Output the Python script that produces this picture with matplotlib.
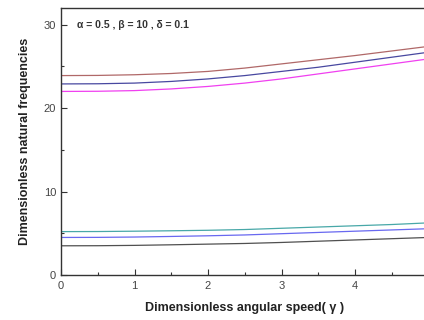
import matplotlib
matplotlib.use("Agg")
import matplotlib.pyplot as plt
from matplotlib.ticker import MultipleLocator

# angular speed values where the curves were read
gamma = [0, 0.5, 1, 1.5, 2, 2.5, 3, 3.5, 4, 4.5, 5]

# upper group of frequencies
f_brown = [23.9, 23.92, 24.0, 24.15, 24.4, 24.8, 25.3, 25.8, 26.3, 26.85, 27.4]
f_blue = [22.9, 22.92, 23.0, 23.2, 23.5, 23.9, 24.4, 24.9, 25.5, 26.1, 26.7]
f_magenta = [22.0, 22.02, 22.1, 22.3, 22.6, 23.0, 23.5, 24.1, 24.7, 25.3, 25.9]

# lower group of frequencies
f_cyan = [5.2, 5.21, 5.25, 5.3, 5.36, 5.45, 5.6, 5.75, 5.9, 6.05, 6.25]
f_purple = [4.5, 4.51, 4.55, 4.62, 4.7, 4.8, 4.95, 5.1, 5.25, 5.4, 5.55]
f_gray = [3.5, 3.51, 3.55, 3.62, 3.7, 3.78, 3.9, 4.05, 4.2, 4.35, 4.5]

plt.rcParams['font.family'] = ['Liberation Sans', 'DejaVu Sans']

fig = plt.figure(figsize=(4.24, 3.2), dpi=100)
ax = fig.add_axes([61 / 424, 45 / 320, 367.5 / 424, 267 / 320])

ax.plot(gamma, f_brown, color='#b06868', lw=0.9)
ax.plot(gamma, f_blue, color='#4848a0', lw=0.9)
ax.plot(gamma, f_magenta, color='#f040f0', lw=0.9)
ax.plot(gamma, f_cyan, color='#48a8a8', lw=0.9)
ax.plot(gamma, f_purple, color='#6868f0', lw=0.9)
ax.plot(gamma, f_gray, color='#505050', lw=0.9)

ax.set_xlim(0, 5)
ax.set_ylim(0, 32)
# the x=5 label falls outside the picture, so only 0..4 are labelled
ax.set_xticks([0, 1, 2, 3, 4])
ax.xaxis.set_minor_locator(MultipleLocator(0.5))
ax.yaxis.set_major_locator(MultipleLocator(10))
ax.yaxis.set_minor_locator(MultipleLocator(5))
ax.tick_params(which='both', direction='in', labelsize=8, labelcolor='#444444',
               color='#333333', width=0.8)
ax.tick_params(which='major', length=4)
ax.tick_params(which='minor', length=2)
ax.tick_params(axis='x', pad=4)
for s in ax.spines.values():
    s.set_color('#333333')
    s.set_linewidth(1.0)

ax.set_xlabel('Dimensionless angular speed( γ )', fontsize=9, fontweight='bold',
              color='#222222', labelpad=8)
ax.set_ylabel('Dimensionless natural frequencies', fontsize=9, fontweight='bold',
              color='#222222', labelpad=9)

ax.text(0.22, 30.0, 'α = 0.5 , β = 10 , δ = 0.1', fontsize=7.5,
        fontweight='bold', color='#333333', va='center')

fig.savefig('out.png', dpi=100)
